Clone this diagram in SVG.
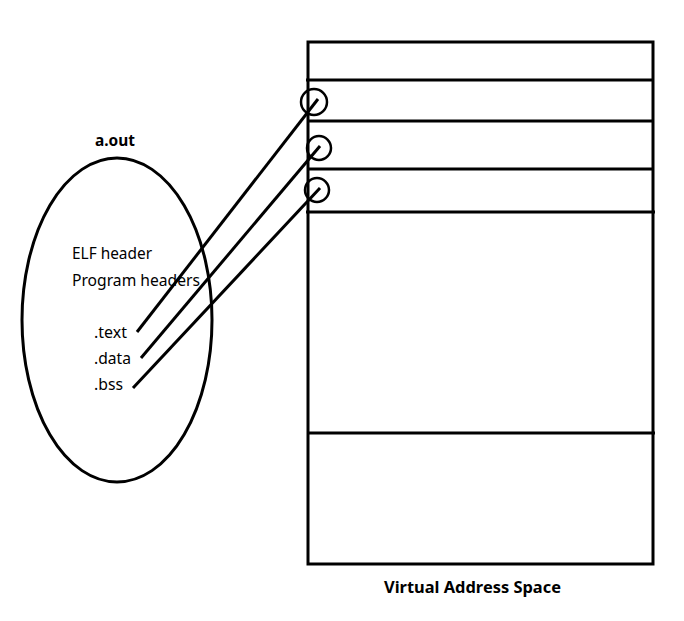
<svg xmlns="http://www.w3.org/2000/svg" width="684" height="621" viewBox="0 0 684 621">
  <style>
    .ln { stroke: #000; stroke-width: 3; fill: none; }
    .thin { stroke: #000; stroke-width: 2.5; fill: none; }
    .lbl { font-family: "Noto Sans", "Open Sans", sans-serif; font-size: 17px; fill: #000; }
    .ttl { font-family: "Noto Sans", "Open Sans", sans-serif; font-size: 16px; font-weight: bold; fill: #000; }
  </style>
  <rect width="684" height="621" fill="#fff"/>

  <!-- executable file -->
  <g id="aout">
    <ellipse class="ln" cx="117" cy="320" rx="95" ry="162"/>
    <text class="ttl" x="95" y="146" textLength="40" lengthAdjust="spacingAndGlyphs">a.out</text>
    <text class="lbl" x="72" y="259" textLength="80" lengthAdjust="spacingAndGlyphs">ELF header</text>
    <text class="lbl" x="72" y="286" textLength="128" lengthAdjust="spacingAndGlyphs">Program headers</text>
    <text class="lbl" x="94" y="338" textLength="33" lengthAdjust="spacingAndGlyphs">.text</text>
    <text class="lbl" x="94" y="364" textLength="37" lengthAdjust="spacingAndGlyphs">.data</text>
    <text class="lbl" x="94" y="390" textLength="29" lengthAdjust="spacingAndGlyphs">.bss</text>
  </g>

  <!-- virtual address space -->
  <g id="vas">
    <rect class="ln" x="308" y="42" width="345" height="522"/>
    <line class="ln" x1="306" y1="80" x2="653" y2="80"/>
    <line class="ln" x1="308" y1="121" x2="653" y2="121"/>
    <line class="ln" x1="308" y1="169" x2="653" y2="169"/>
    <line class="ln" x1="306" y1="212" x2="655" y2="212"/>
    <line class="ln" x1="308" y1="433" x2="655" y2="433"/>
    <text class="ttl" x="384" y="593" textLength="177" lengthAdjust="spacingAndGlyphs">Virtual Address Space</text>
  </g>

  <!-- segment mapping markers -->
  <g id="markers">
    <circle class="thin" cx="314" cy="102" r="13"/>
    <circle class="thin" cx="319" cy="148" r="12"/>
    <circle class="thin" cx="317" cy="190" r="12"/>
  </g>

  <g id="connectors">
    <line class="ln" x1="137" y1="332" x2="318" y2="99"/>
    <line class="ln" x1="141" y1="358" x2="320" y2="146"/>
    <line class="ln" x1="133" y1="388" x2="320" y2="188"/>
  </g>
</svg>
